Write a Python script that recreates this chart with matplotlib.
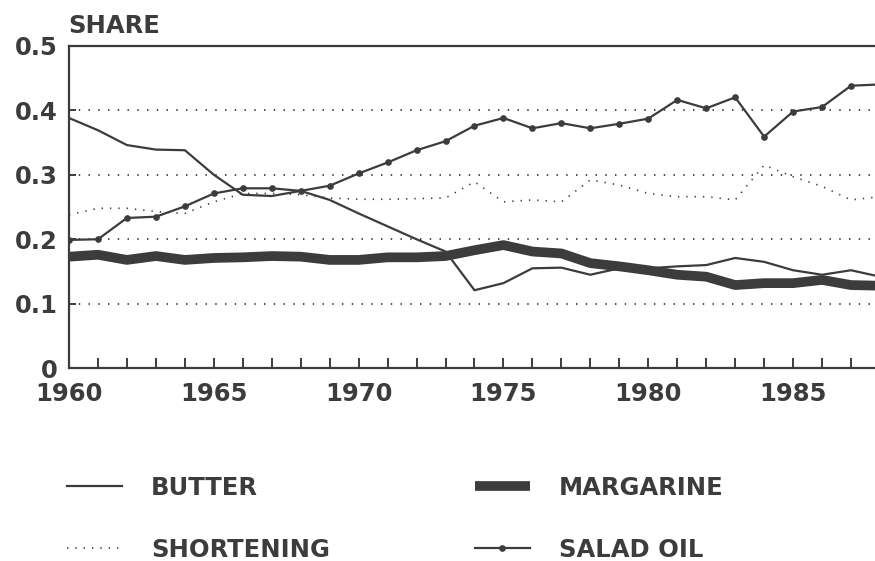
import matplotlib
matplotlib.use("Agg")
import matplotlib.pyplot as plt
from matplotlib.ticker import MultipleLocator, FixedLocator
from matplotlib.lines import Line2D

# shares of fats and oils
years = list(range(1960, 1989))
butter = [0.388, 0.369, 0.346, 0.339, 0.338, 0.300, 0.269, 0.267, 0.275, 0.261,
          0.240, 0.220, 0.200, 0.181, 0.121, 0.132, 0.155, 0.156, 0.145, 0.155,
          0.155, 0.158, 0.160, 0.171, 0.165, 0.152, 0.145, 0.152, 0.142]
margarine = [0.173, 0.176, 0.168, 0.174, 0.168, 0.171, 0.172, 0.174, 0.173, 0.168,
             0.168, 0.172, 0.172, 0.174, 0.183, 0.191, 0.181, 0.178, 0.163, 0.158,
             0.152, 0.145, 0.142, 0.129, 0.132, 0.132, 0.137, 0.129, 0.128]
shortening = [0.238, 0.248, 0.248, 0.243, 0.240, 0.258, 0.271, 0.271, 0.269, 0.264,
              0.262, 0.262, 0.263, 0.264, 0.289, 0.258, 0.261, 0.258, 0.292, 0.284,
              0.271, 0.266, 0.266, 0.261, 0.315, 0.297, 0.282, 0.261, 0.266]
salad_oil = [0.199, 0.200, 0.233, 0.235, 0.251, 0.271, 0.279, 0.279, 0.275, 0.283,
             0.302, 0.319, 0.338, 0.352, 0.376, 0.388, 0.372, 0.380, 0.372, 0.379,
             0.387, 0.416, 0.403, 0.420, 0.359, 0.398, 0.405, 0.438, 0.440]

x_ticks = [1960, 1965, 1970, 1975, 1980, 1985]
y_ticks = [0, 0.1, 0.2, 0.3, 0.4, 0.5]
y_labels = ["0", "0.1", "0.2", "0.3", "0.4", "0.5"]

ink = "#3c3c3c"
fs = 17.5
plt.rcParams["font.family"] = "DejaVu Sans"
plt.rcParams["font.weight"] = "bold"

fig = plt.figure(figsize=(8.75, 5.61), dpi=100)
# axes runs a little past the right edge, like the cropped scan
ax = fig.add_axes([69 / 875, 0.3435, 811 / 875, 0.575])

dot = (0, (0.8, 4.6))
for v in y_ticks[1:-1]:
    ax.axhline(v, color=ink, lw=1.3, ls=dot, zorder=1)

l_shortening, = ax.plot(years, shortening, color=ink, lw=1.2, ls=(0, (0.8, 4.2)), zorder=2)
l_butter, = ax.plot(years, butter, color=ink, lw=1.6, zorder=3)
l_margarine, = ax.plot(years, margarine, color=ink, lw=7, solid_capstyle="butt",
                       solid_joinstyle="round", zorder=4)
l_salad, = ax.plot(years, salad_oil, color=ink, lw=1.6, marker="o", ms=3.8, zorder=5)

ax.set_xlim(1960, 1988)
ax.set_ylim(0, 0.5)
ax.spines["right"].set_visible(False)
for s in ["left", "top", "bottom"]:
    ax.spines[s].set_linewidth(1.6)
    ax.spines[s].set_color(ink)

ax.xaxis.set_major_locator(FixedLocator(x_ticks))
ax.xaxis.set_minor_locator(MultipleLocator(1))
ax.set_xticklabels([str(t) for t in x_ticks])
ax.yaxis.set_major_locator(FixedLocator(y_ticks))
ax.set_yticklabels(y_labels)
ax.tick_params(axis="x", which="both", direction="in", length=7, width=1.4,
               color=ink, labelcolor=ink, labelsize=fs, pad=10, top=False)
ax.tick_params(axis="y", direction="in", length=5, width=1.4, color=ink,
               labelcolor=ink, labelsize=fs, pad=8)

fig.text(68 / 875, 1 - 33 / 561, "SHARE", color=ink, fontsize=fs,
         fontweight="bold", ha="left", va="baseline")

common = dict(loc="upper left", frameon=False, fontsize=fs, handlelength=2.25,
              handletextpad=1.2, labelspacing=1.55, borderpad=0, borderaxespad=0,
              labelcolor=ink)
leg1 = fig.legend([l_butter, l_shortening], ["BUTTER", "SHORTENING"],
                  bbox_to_anchor=(67 / 875, 1 - 476 / 561), **common)
leg2 = fig.legend([l_margarine, l_salad], ["MARGARINE", "SALAD OIL"],
                  bbox_to_anchor=(475 / 875, 1 - 476 / 561), **common)

plt.savefig("out.png", dpi=100, facecolor="white")
